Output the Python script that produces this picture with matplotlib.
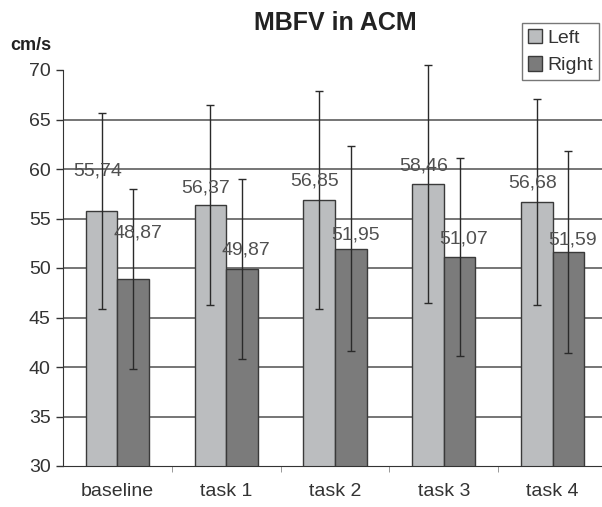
import numpy as np
import matplotlib.pyplot as plt
from matplotlib.ticker import FixedLocator

plt.rcParams['font.family'] = ['Liberation Sans', 'DejaVu Sans']

# data
categories = ['baseline', 'task 1', 'task 2', 'task 3', 'task 4']
left_vals = [55.74, 56.37, 56.85, 58.46, 56.68]
right_vals = [48.87, 49.87, 51.95, 51.07, 51.59]
left_err = [9.9, 10.1, 11.0, 12.0, 10.4]
right_err = [9.1, 9.1, 10.35, 10.0, 10.2]

# how far above each bar its label sits (data units)
left_lab_off = [4.1, 1.7, 1.9, 1.85, 1.9]
right_lab_off = [4.7, 1.9, 1.35, 1.85, 1.2]

fig = plt.figure(figsize=(6.02, 5.07), dpi=100)
ax = fig.add_axes([63 / 602, 1 - 466 / 507, 544 / 602, (466 - 70) / 507])

x = np.arange(len(categories))
w = 0.29
ax.bar(x - w / 2, left_vals, w, color='#bbbdbf', edgecolor='#3a3a3a', linewidth=1, label='Left', zorder=2)
ax.bar(x + w / 2, right_vals, w, color='#7b7b7b', edgecolor='#3a3a3a', linewidth=1, label='Right', zorder=2)
for xs, vals, err in [(x - w / 2, left_vals, left_err), (x + w / 2, right_vals, right_err)]:
    eb = ax.errorbar(xs, vals, yerr=err, fmt='none', ecolor='#2a2a2a',
                     elinewidth=1, capsize=3, capthick=1, zorder=3)
    for part in eb.lines[1] + eb.lines[2]:
        part.set_clip_on(False)

for i in range(len(categories)):
    ax.text(x[i] - w / 2 - 0.04, left_vals[i] + left_lab_off[i], f'{left_vals[i]:.2f}'.replace('.', ','),
            ha='center', va='center', fontsize=14, color='#505050', zorder=4)
    ax.text(x[i] + w / 2 + 0.04, right_vals[i] + right_lab_off[i], f'{right_vals[i]:.2f}'.replace('.', ','),
            ha='center', va='center', fontsize=14, color='#505050', zorder=4)

ax.set_xlim(-0.5, 4.5)
ax.set_ylim(30, 70)
ax.set_yticks(range(30, 71, 5))
ax.set_xticks(x)
ax.set_xticklabels(categories)
ax.xaxis.set_minor_locator(FixedLocator(np.arange(0.5, 4.5, 1)))
ax.tick_params(axis='x', which='major', length=0, pad=12, labelsize=14, labelcolor='#333333')
ax.tick_params(axis='x', which='minor', length=4, color='#888888')
ax.tick_params(axis='y', length=5, width=1, color='#333333', labelsize=14, labelcolor='#333333', pad=4)

for yv in range(35, 70, 5):
    ax.axhline(yv, color='#6a6a6a', linewidth=1.3, zorder=1)

for s in ['top', 'right']:
    ax.spines[s].set_visible(False)
ax.spines['left'].set_color('#333333')
ax.spines['bottom'].set_color('#333333')

fig.text(335 / 602, 1 - 23 / 507, 'MBFV in ACM', ha='center', va='center',
         fontsize=18, fontweight='bold', color='#222222')
fig.text(10 / 602, 1 - 46 / 507, 'cm/s', ha='left', va='center',
         fontsize=13, fontweight='bold', color='#222222')

leg = fig.legend(loc='upper left', bbox_to_anchor=(522 / 602, 1 - 23 / 507),
                 fontsize=14, frameon=True, fancybox=False, edgecolor='#555555',
                 handlelength=0.75, handleheight=0.75, handletextpad=0.25,
                 borderpad=0.3, labelspacing=0.5, borderaxespad=0)
leg.get_frame().set_linewidth(1)
for t in leg.get_texts():
    t.set_color('#333333')

fig.savefig('out.png', dpi=100)
